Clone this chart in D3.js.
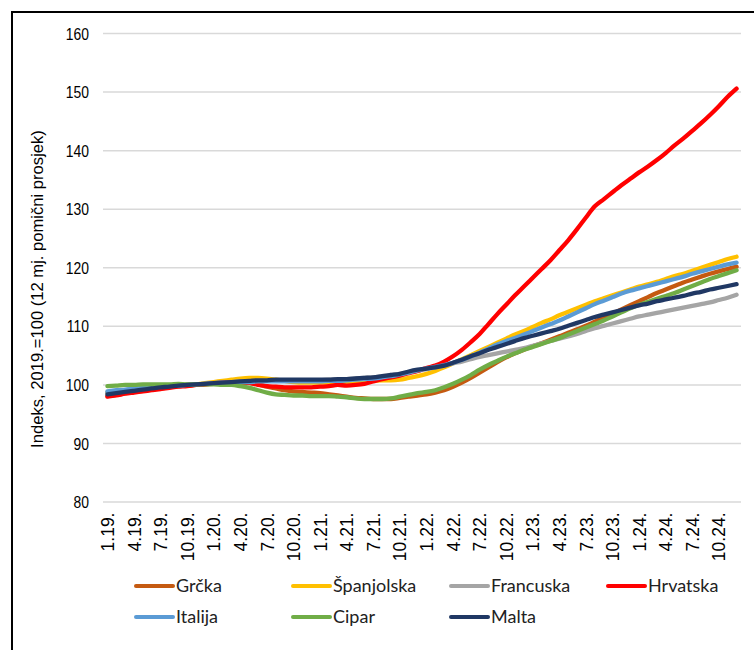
<!DOCTYPE html>
<html>
<head>
<meta charset="utf-8">
<script src="https://cdn.jsdelivr.net/npm/d3@7"></script>
<style>
  html, body { margin: 0; padding: 0; background: #fff; }
  svg { display: block; }
  text { font-family: "Liberation Sans", Arial, sans-serif; fill: #000; }
  .legend text { font-family: Lato, "Open Sans", sans-serif; fill: #222; }
</style>
</head>
<body>
<svg id="chart" width="754" height="650"></svg>
<script>
// Months, January 2019 to December 2024
const categories = [
  "1.19.","2.19.","3.19.","4.19.","5.19.","6.19.","7.19.","8.19.","9.19.","10.19.","11.19.","12.19.",
  "1.20.","2.20.","3.20.","4.20.","5.20.","6.20.","7.20.","8.20.","9.20.","10.20.","11.20.","12.20.",
  "1.21.","2.21.","3.21.","4.21.","5.21.","6.21.","7.21.","8.21.","9.21.","10.21.","11.21.","12.21.",
  "1.22.","2.22.","3.22.","4.22.","5.22.","6.22.","7.22.","8.22.","9.22.","10.22.","11.22.","12.22.",
  "1.23.","2.23.","3.23.","4.23.","5.23.","6.23.","7.23.","8.23.","9.23.","10.23.","11.23.","12.23.",
  "1.24.","2.24.","3.24.","4.24.","5.24.","6.24.","7.24.","8.24.","9.24.","10.24.","11.24.","12.24."
];

// Axis labels shown under the chart (every third month)
const tickLabels = categories.filter((d, i) => i % 3 === 0);
const yTicks = [80, 90, 100, 110, 120, 130, 140, 150, 160];

// Index, 2019 = 100, 12-month moving average
const grcka = [
  98.0, 98.2, 98.5, 98.7, 98.9, 99.1, 99.3, 99.5, 99.7, 99.8, 99.9, 100.0,
  100.1, 100.2, 100.3, 100.3, 100.2, 100.0, 99.6, 99.3, 99.0, 98.8, 98.7, 98.6,
  98.5, 98.3, 98.1, 97.9, 97.7, 97.6, 97.5, 97.5, 97.5, 97.7, 97.9, 98.1,
  98.3, 98.6, 99.0, 99.6, 100.3, 101.1, 102.0, 102.9, 103.8, 104.6, 105.3, 105.9,
  106.5, 107.0, 107.6, 108.2, 108.8, 109.4, 110.0, 110.7, 111.4, 112.1, 112.8, 113.5,
  114.2, 114.9, 115.6, 116.2, 116.8, 117.4, 117.9, 118.4, 118.9, 119.3, 119.7, 120.1
];
const spanjolska = [
  98.6, 98.8, 99.0, 99.2, 99.3, 99.5, 99.6, 99.7, 99.8, 99.9, 100.0, 100.2,
  100.4, 100.6, 100.8, 101.0, 101.1, 101.1, 101.0, 100.8, 100.6, 100.4, 100.3, 100.3,
  100.3, 100.3, 100.3, 100.3, 100.4, 100.5, 100.6, 100.7, 100.7, 100.8, 101.1, 101.4,
  101.8, 102.3, 102.9, 103.6, 104.3, 105.0, 105.7, 106.4, 107.1, 107.8, 108.5, 109.1,
  109.8, 110.5, 111.1, 111.8, 112.4, 113.0, 113.6, 114.2, 114.7, 115.2, 115.7, 116.2,
  116.7, 117.1, 117.5, 118.0, 118.5, 118.9, 119.4, 119.9, 120.4, 120.9, 121.4, 121.8
];
const francuska = [
  98.6, 98.8, 99.0, 99.2, 99.4, 99.5, 99.6, 99.7, 99.8, 99.9, 100.0, 100.1,
  100.2, 100.3, 100.4, 100.5, 100.5, 100.6, 100.6, 100.6, 100.7, 100.7, 100.7, 100.7,
  100.7, 100.8, 100.8, 100.9, 101.0, 101.1, 101.2, 101.4, 101.6, 101.8, 102.0, 102.3,
  102.6, 102.9, 103.2, 103.6, 103.9, 104.3, 104.7, 105.0, 105.3, 105.6, 105.9, 106.2,
  106.6, 107.0, 107.4, 107.8, 108.2, 108.6, 109.1, 109.6, 110.0, 110.4, 110.8, 111.2,
  111.6, 111.9, 112.2, 112.5, 112.8, 113.1, 113.4, 113.7, 114.0, 114.4, 114.8, 115.3
];
const hrvatska = [
  97.9, 98.1, 98.4, 98.6, 98.8, 99.0, 99.2, 99.4, 99.6, 99.7, 99.9, 100.0,
  100.2, 100.3, 100.4, 100.4, 100.3, 99.9, 99.7, 99.6, 99.5, 99.5, 99.5, 99.5,
  99.6, 99.7, 99.9, 99.8, 99.9, 100.1, 100.5, 100.9, 101.2, 101.5, 101.9, 102.3,
  102.8, 103.2, 103.9, 104.8, 105.9, 107.2, 108.6, 110.3, 112.0, 113.6, 115.2, 116.7,
  118.2, 119.7, 121.2, 122.9, 124.6, 126.5, 128.5, 130.4, 131.6, 132.8, 134.0, 135.1,
  136.2, 137.2, 138.3, 139.5, 140.8, 142.0, 143.3, 144.6, 146.0, 147.5, 149.1, 150.5
];
const italija = [
  98.8, 99.0, 99.1, 99.3, 99.4, 99.5, 99.6, 99.7, 99.8, 99.9, 100.0, 100.1,
  100.2, 100.3, 100.3, 100.4, 100.4, 100.5, 100.5, 100.5, 100.5, 100.5, 100.5, 100.5,
  100.5, 100.6, 100.6, 100.7, 100.8, 100.9, 101.0, 101.2, 101.4, 101.7, 102.0, 102.4,
  102.7, 103.0, 103.3, 103.7, 104.2, 104.8, 105.4, 106.1, 106.8, 107.4, 107.9, 108.5,
  109.1, 109.7, 110.3, 110.9, 111.6, 112.3, 113.0, 113.7, 114.3, 114.9, 115.5, 116.0,
  116.4, 116.8, 117.2, 117.6, 118.0, 118.4, 118.9, 119.3, 119.7, 120.1, 120.5, 120.8
];
const cipar = [
  99.7, 99.8, 99.9, 99.9, 100.0, 100.0, 100.0, 100.0, 100.1, 100.0, 100.0, 100.0,
  100.0, 99.9, 99.9, 99.7, 99.4, 99.0, 98.6, 98.3, 98.2, 98.1, 98.1, 98.0,
  98.0, 98.0, 97.9, 97.8, 97.6, 97.5, 97.5, 97.5, 97.6, 97.9, 98.2, 98.5,
  98.7, 99.0, 99.5, 100.1, 100.8, 101.6, 102.5, 103.3, 104.0, 104.7, 105.3, 105.9,
  106.4, 106.9, 107.4, 107.9, 108.5, 109.1, 109.7, 110.3, 110.9, 111.6, 112.3, 113.0,
  113.6, 114.1, 114.6, 115.1, 115.6, 116.2, 116.8, 117.4, 118.0, 118.5, 119.0, 119.5
];
const malta = [
  98.3, 98.5, 98.7, 98.9, 99.1, 99.3, 99.5, 99.6, 99.8, 99.9, 100.0, 100.1,
  100.2, 100.3, 100.4, 100.5, 100.6, 100.7, 100.7, 100.8, 100.8, 100.8, 100.8, 100.8,
  100.8, 100.8, 100.9, 100.9, 101.0, 101.1, 101.2, 101.4, 101.6, 101.8, 102.2, 102.5,
  102.7, 102.9, 103.2, 103.7, 104.2, 104.8, 105.3, 105.9, 106.4, 106.9, 107.4, 107.9,
  108.3, 108.7, 109.1, 109.5, 110.0, 110.5, 111.0, 111.5, 111.9, 112.3, 112.7, 113.1,
  113.5, 113.8, 114.2, 114.5, 114.8, 115.1, 115.5, 115.8, 116.2, 116.5, 116.8, 117.1
];

const seriesNames = ["Grčka", "Španjolska", "Francuska", "Hrvatska", "Italija", "Cipar", "Malta"];
const seriesValues = [grcka, spanjolska, francuska, hrvatska, italija, cipar, malta];
const seriesColors = ["#C55A11", "#FFC000", "#A5A5A5", "#FF0000", "#5B9BD5", "#70AD47", "#203864"];

const svg = d3.select("#chart");

// Outer frame
svg.append("rect")
  .attr("x", 12).attr("y", 12)
  .attr("width", 780).attr("height", 700)
  .attr("fill", "#fff").attr("stroke", "#000").attr("stroke-width", 2);

const plot = { left: 103, right: 741, top: 33, bottom: 501.5 };

const x = d3.scalePoint()
  .domain(categories)
  .range([plot.left, plot.right])
  .padding(0.5);

const y = d3.scaleLinear()
  .domain([80, 160])
  .range([plot.bottom, plot.top]);

// Horizontal gridlines and value labels
const yAxis = d3.axisLeft(y)
  .tickValues(yTicks)
  .tickSize(-(plot.right - plot.left))
  .tickFormat(d3.format("d"));

const gy = svg.append("g")
  .attr("transform", `translate(${plot.left},0)`)
  .call(yAxis);
gy.select(".domain").remove();
gy.selectAll(".tick line").attr("stroke", "#D9D9D9").attr("stroke-width", 1.5);
gy.selectAll(".tick text")
  .attr("font-size", 17)
  .attr("fill", "#000")
  .attr("x", 0)
  .attr("dy", "0.36em")
  .attr("transform", "translate(-14,0) scale(0.82,1)");

// Month labels, rotated
const xAxis = d3.axisBottom(x)
  .tickValues(tickLabels)
  .tickSize(0)
  .tickPadding(0);

const gx = svg.append("g")
  .attr("transform", `translate(0,${plot.bottom})`)
  .call(xAxis);
gx.select(".domain").remove();
gx.selectAll(".tick text")
  .attr("font-size", 17.5)
  .attr("fill", "#000")
  .attr("transform", "rotate(-90)")
  .attr("text-anchor", "end")
  .attr("dy", "0.35em")
  .attr("x", -11)
  .attr("y", 0);

// Y axis title
svg.append("text")
  .attr("transform", "translate(43,289) rotate(-90)")
  .attr("text-anchor", "middle")
  .attr("font-size", 16.6)
  .text("Indeks, 2019.=100 (12 mj. pomični prosjek)");

// Series lines
const line = d3.line()
  .x((d, i) => x(categories[i]))
  .y(d => y(d))
  .curve(d3.curveMonotoneX);

svg.append("g")
  .selectAll("path")
  .data(seriesValues)
  .join("path")
  .attr("d", d => line(d))
  .attr("fill", "none")
  .attr("stroke", (d, i) => seriesColors[i])
  .attr("stroke-width", 4.3)
  .attr("stroke-linejoin", "round")
  .attr("stroke-linecap", "round");

// Legend: two rows of four columns
const legendCols = [136, 293, 451, 608];
const legendRows = [586, 617];
const legend = svg.append("g").attr("class", "legend");
seriesNames.forEach((name, i) => {
  const cx = legendCols[i % 4];
  const cy = legendRows[Math.floor(i / 4)];
  const g = legend.append("g").attr("transform", `translate(${cx},${cy})`);
  g.append("line")
    .attr("x1", 0).attr("x2", 37)
    .attr("y1", 0).attr("y2", 0)
    .attr("stroke", seriesColors[i])
    .attr("stroke-width", 4)
    .attr("stroke-linecap", "round");
  g.append("text")
    .attr("x", 40)
    .attr("y", 0)
    .attr("dy", "0.36em")
    .attr("font-size", 18)
    .text(name);
});
</script>
</body>
</html>
